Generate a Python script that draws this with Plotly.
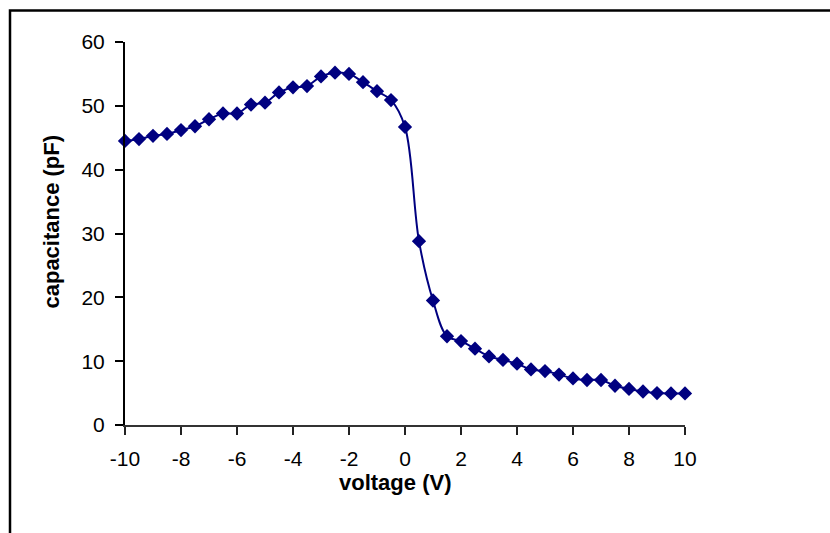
import plotly.graph_objects as go

voltage = [-10, -9.5, -9, -8.5, -8, -7.5, -7, -6.5, -6, -5.5, -5, -4.5, -4, -3.5, -3, -2.5,
           -2, -1.5, -1, -0.5, 0, 0.5, 1, 1.5, 2, 2.5, 3, 3.5, 4, 4.5, 5, 5.5, 6, 6.5, 7,
           7.5, 8, 8.5, 9, 9.5, 10]
capacitance = [44.5, 44.8, 45.3, 45.6, 46.2, 46.8, 47.9, 48.8, 48.8, 50.2, 50.5, 52.1, 52.9,
               53.1, 54.6, 55.2, 55.0, 53.7, 52.3, 50.9, 46.7, 28.8, 19.5, 13.9, 13.15, 11.95,
               10.75, 10.2, 9.6, 8.7, 8.45, 7.9, 7.3, 7.05, 7.05, 6.15, 5.65, 5.25, 5.0, 4.95,
               4.95]

x_ticks = [-10, -8, -6, -4, -2, 0, 2, 4, 6, 8, 10]
y_ticks = [0, 10, 20, 30, 40, 50, 60]

FONT = "Liberation Sans, Arial, sans-serif"
NAVY = "#000080"

fig = go.Figure()
fig.add_trace(go.Scatter(
    x=voltage, y=capacitance, mode="lines+markers",
    line=dict(color=NAVY, width=2, shape="spline", smoothing=1.0),
    marker=dict(symbol="diamond", size=11, color=NAVY),
    showlegend=False, cliponaxis=False,
))

fig.update_layout(
    width=830, height=533,
    margin=dict(l=125, r=145, t=42, b=108),
    paper_bgcolor="white", plot_bgcolor="white",
    font=dict(family=FONT, size=21, color="black"),
    xaxis=dict(
        range=[-10, 10], tickvals=x_ticks, ticktext=[str(v) for v in x_ticks],
        showgrid=False, zeroline=False, showline=True, linecolor="#333333", linewidth=2,
        ticks="outside", ticklen=8, tickwidth=2, tickcolor="#222222",
        ticklabelstandoff=6,
        tickfont=dict(family=FONT, size=21, color="black"),
    ),
    yaxis=dict(
        range=[0, 60], tickvals=y_ticks, ticktext=[str(v) for v in y_ticks],
        showgrid=False, zeroline=False, showline=True, linecolor="black", linewidth=2,
        ticks="outside", ticklen=8, tickwidth=2, tickcolor="black",
        ticklabelstandoff=6,
        tickfont=dict(family=FONT, size=21, color="black"),
    ),
    annotations=[
        dict(text="<b>voltage (V)</b>", xref="paper", yref="paper", x=0.482, y=-0.149,
             showarrow=False, xanchor="center", yanchor="middle",
             font=dict(family=FONT, size=22, color="black")),
        dict(text="<b>capacitance (pF)</b>", xref="paper", yref="paper", x=-0.133, y=0.53,
             showarrow=False, xanchor="center", yanchor="middle", textangle=-90,
             font=dict(family=FONT, size=22, color="black")),
    ],
    shapes=[
        dict(type="rect", xref="paper", yref="paper",
             x0=(10 - 125) / 560, x1=(845 - 125) / 560,
             y0=(425 - 550) / 383, y1=(425 - 10.5) / 383,
             line=dict(color="black", width=2.5), fillcolor="rgba(0,0,0,0)", layer="above"),
    ],
)

fig.write_html("out.html", config={"displayModeBar": False},
               post_script="document.body.style.margin='0';")
